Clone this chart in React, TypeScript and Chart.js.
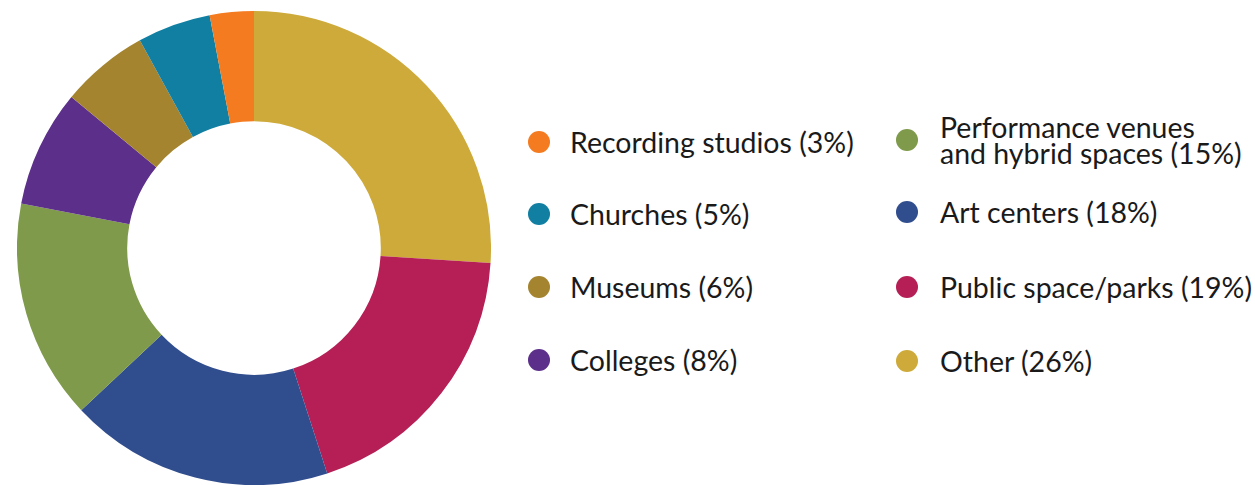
import React, { useEffect, useRef } from "react";
import { Chart, registerables } from "chart.js";

Chart.register(...registerables);

// Clockwise from 12 o'clock
const labels = [
  "Other",
  "Public space/parks",
  "Art centers",
  "Performance venues\nand hybrid spaces",
  "Colleges",
  "Museums",
  "Churches",
  "Recording studios",
];
const values = [26, 19, 18, 15, 8, 6, 5, 3];
const colors = [
  "#CDAA39",
  "#B51F55",
  "#304D8E",
  "#7E9A4A",
  "#5C2F8A",
  "#A58430",
  "#107FA2",
  "#F47B20",
];

// legend columns, as indexes into the arrays above
const legendLeft = [7, 6, 5, 4];
const legendRight = [3, 2, 1, 0];

const FONT = "Lato, 'Open Sans', sans-serif";

function LegendItem({ idx, left, top, gap }: { idx: number; left: number; top: number; gap: number }) {
  return (
    <div
      style={{
        position: "absolute",
        left,
        top,
        transform: "translateY(-50%)",
        display: "flex",
        alignItems: "center",
        fontFamily: FONT,
        fontSize: 28.5,
        color: "#1a1a1a",
        whiteSpace: "pre",
      }}
    >
      <span
        style={{
          display: "inline-block",
          width: 22,
          height: 22,
          borderRadius: "50%",
          background: colors[idx],
          marginRight: gap,
          flex: "0 0 auto",
        }}
      />
      <span style={{ lineHeight: "26px" }}>{`${labels[idx]} (${values[idx]}%)`}</span>
    </div>
  );
}

export default function App() {
  const ref = useRef<HTMLCanvasElement | null>(null);

  useEffect(() => {
    if (!ref.current) return;
    const chart = new Chart(ref.current, {
      type: "doughnut",
      data: {
        labels,
        datasets: [
          {
            data: values,
            backgroundColor: colors,
            borderWidth: 0,
          },
        ],
      },
      options: {
        responsive: false,
        animation: false,
        cutout: "53.5%",
        layout: { padding: 0 },
        plugins: {
          legend: { display: false },
          tooltip: { enabled: false },
        },
      },
    });
    return () => chart.destroy();
  }, []);

  const leftRows = [142, 214, 287, 360];
  const rightRows = [140, 212, 287, 361];

  return (
    <div
      style={{
        position: "fixed",
        left: 0,
        top: 0,
        width: 1255,
        height: 485,
        background: "#fff",
        overflow: "hidden",
      }}
    >
      <canvas
        ref={ref}
        width={474}
        height={474}
        style={{ position: "absolute", left: 17, top: 11, width: 474, height: 474 }}
      />
      {legendLeft.map((idx, i) => (
        <LegendItem key={"l" + idx} idx={idx} left={528} top={leftRows[i]} gap={20} />
      ))}
      {legendRight.map((idx, i) => (
        <LegendItem key={"r" + idx} idx={idx} left={896} top={rightRows[i]} gap={22} />
      ))}
    </div>
  );
}
